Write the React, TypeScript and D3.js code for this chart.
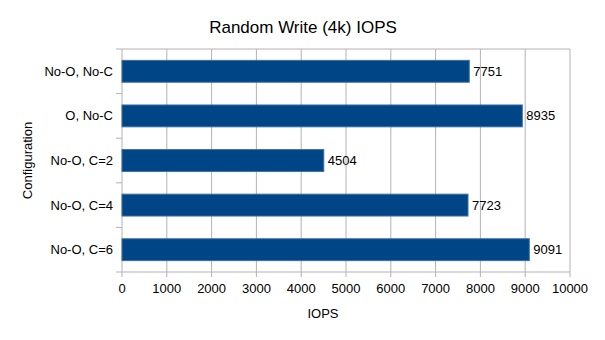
import React from "react";
import * as d3 from "d3";

const categories = ["No-O, No-C", "O, No-C", "No-O, C=2", "No-O, C=4", "No-O, C=6"];
const iops = [7751, 8935, 4504, 7723, 9091];
const xTicks = [0, 1000, 2000, 3000, 4000, 5000, 6000, 7000, 8000, 9000, 10000];

const W = 605, H = 340;
const left = 122, right = 570, top = 49, bottom = 272;
const font = "'Liberation Sans', Arial, sans-serif";

export default function App() {
  const x = d3.scaleLinear().domain([0, 10000]).range([left, right]);
  const y = d3.scaleBand().domain(categories).range([top, bottom]).paddingInner(0.51).paddingOuter(0.255);
  const band = d3.scaleBand().domain(categories).range([top, bottom]);
  return (
    <svg width={W} height={H} style={{ position: "absolute", left: 0, top: 0 }} fontFamily={font}>
      <rect width={W} height={H} fill="#fff" />
      <text x={303} y={33} textAnchor="middle" fontSize={17} fill="#000">Random Write (4k) IOPS</text>
      {xTicks.map((t) => (
        <g key={t}>
          <line x1={x(t)} x2={x(t)} y1={top} y2={bottom + 5} stroke="#b3b3b3" strokeWidth={1} />
          <text x={x(t)} y={293} textAnchor="middle" fontSize={13} fill="#000">{t}</text>
        </g>
      ))}
      <line x1={left} x2={right} y1={top} y2={top} stroke="#b3b3b3" />
      <line x1={left} x2={right} y1={bottom} y2={bottom} stroke="#b3b3b3" />
      {categories.map((c) => (
        <line key={"t" + c} x1={left - 6} x2={left} y1={band(c)!} y2={band(c)!} stroke="#b3b3b3" />
      ))}
      <line x1={left - 6} x2={left} y1={bottom} y2={bottom} stroke="#b3b3b3" />
      {categories.map((c, i) => (
        <g key={c}>
          <rect x={x(0)} y={y(c)!} width={x(iops[i]) - x(0)} height={y.bandwidth()} fill="#004586" stroke="#3c6ea3" strokeWidth={1} />
          <text x={x(iops[i]) + 4} y={y(c)! + y.bandwidth() / 2 + 4.5} fontSize={13} fill="#000">{iops[i]}</text>
          <text x={113} y={band(c)! + band.bandwidth() / 2 + 4.5} textAnchor="end" fontSize={13} fill="#000">{c}</text>
        </g>
      ))}
      <text x={323} y={318} textAnchor="middle" fontSize={13} fill="#000">IOPS</text>
      <text transform={`translate(32,${(top + bottom) / 2}) rotate(-90)`} textAnchor="middle" fontSize={13} fill="#000">Configuration</text>
    </svg>
  );
}
